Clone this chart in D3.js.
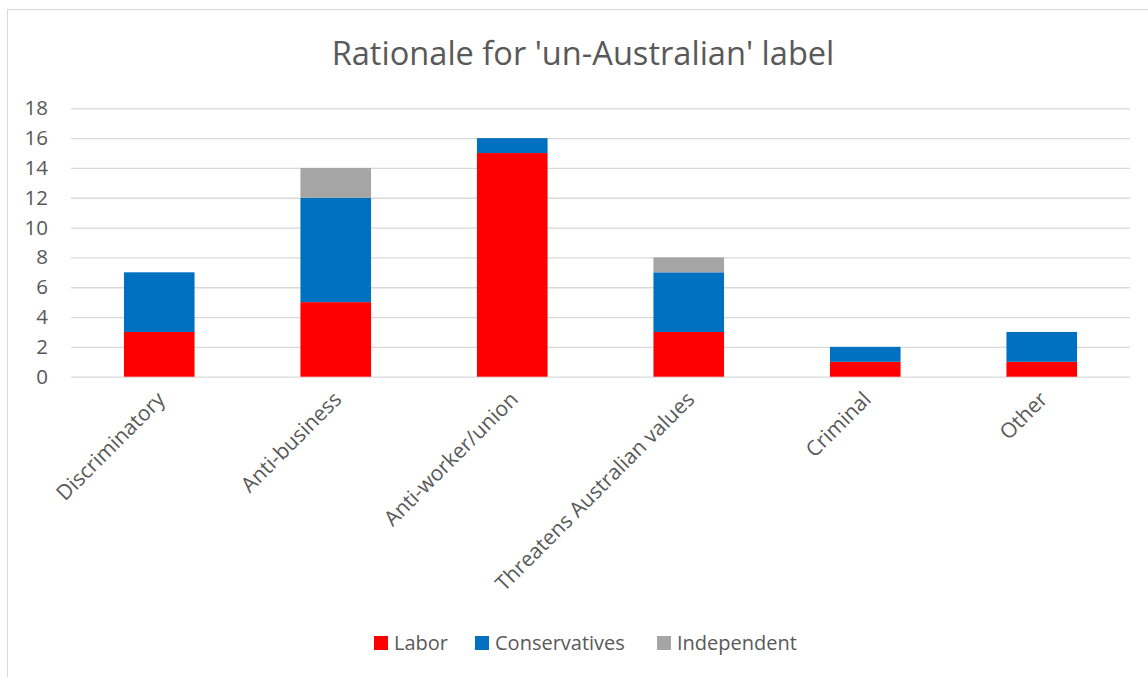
<!DOCTYPE html>
<html>
<head>
<meta charset="utf-8">
<script src="https://cdn.jsdelivr.net/npm/d3@7"></script>
<style>
  body { margin: 0; background: #fff; }
  text { font-family: "Open Sans", sans-serif; fill: #595959; }
</style>
</head>
<body>
<svg width="1148" height="677"></svg>
<script>
const categories = ["Discriminatory", "Anti-business", "Anti-worker/union", "Threatens Australian values", "Criminal", "Other"];
const labor = [3, 5, 15, 3, 1, 1];
const conservatives = [4, 7, 1, 4, 1, 2];
const independent = [0, 2, 0, 1, 0, 0];
const seriesNames = ["Labor", "Conservatives", "Independent"];
const seriesColours = ["#ff0000", "#0070c0", "#a5a5a5"];
const yTicks = [0, 2, 4, 6, 8, 10, 12, 14, 16, 18];

const svg = d3.select("svg");

// outer chart frame
svg.append("rect")
  .attr("x", 7.5).attr("y", 9.5)
  .attr("width", 1160).attr("height", 700)
  .attr("fill", "none").attr("stroke", "#d9d9d9");

const plot = { left: 71, right: 1130, top: 108.3, bottom: 376.7 };

const x = d3.scaleBand().domain(categories).range([plot.left, plot.right]).paddingInner(0.6).paddingOuter(0.3);
const y = d3.scaleLinear().domain([0, 18]).range([plot.bottom, plot.top]);

// gridlines + y labels
const yAxis = d3.axisLeft(y).tickValues(yTicks).tickSize(-(plot.right - plot.left)).tickPadding(23);
const gy = svg.append("g").attr("transform", `translate(${plot.left},0)`).call(yAxis);
gy.select(".domain").remove();
gy.selectAll(".tick line").attr("stroke", "#d9d9d9").attr("stroke-width", 1.3);
gy.selectAll(".tick text").style("font-size", "20.5px").attr("fill", "#595959");

// stacked data
const table = categories.map((c, i) => ({
  cat: c, Labor: labor[i], Conservatives: conservatives[i], Independent: independent[i]
}));
const stack = d3.stack().keys(seriesNames)(table);

svg.append("g").selectAll("g")
  .data(stack)
  .join("g")
  .attr("fill", (d, i) => seriesColours[i])
  .selectAll("rect")
  .data(d => d)
  .join("rect")
  .attr("x", d => x(d.data.cat))
  .attr("width", x.bandwidth())
  .attr("y", d => y(d[1]))
  .attr("height", d => y(d[0]) - y(d[1]));

// category labels, rotated
svg.append("g").selectAll("text")
  .data(categories)
  .join("text")
  .attr("transform", d => `translate(${x(d) + x.bandwidth() / 2 + 7},${plot.bottom + 24}) rotate(-45)`)
  .attr("text-anchor", "end")
  .style("font-size", "21px")
  .text(d => d);

// title
svg.append("text")
  .attr("x", 583).attr("y", 65)
  .attr("text-anchor", "middle")
  .style("font-size", "32.6px")
  .text("Rationale for 'un-Australian' label");

// legend
const legendX = [374, 475, 657];
const legend = svg.append("g").selectAll("g")
  .data(seriesNames)
  .join("g")
  .attr("transform", (d, i) => `translate(${legendX[i]},636)`);
legend.append("rect").attr("width", 14).attr("height", 14).attr("fill", (d, i) => seriesColours[i]);
legend.append("text").attr("x", 20).attr("y", 14).style("font-size", "20px").text(d => d);
</script>
</body>
</html>
